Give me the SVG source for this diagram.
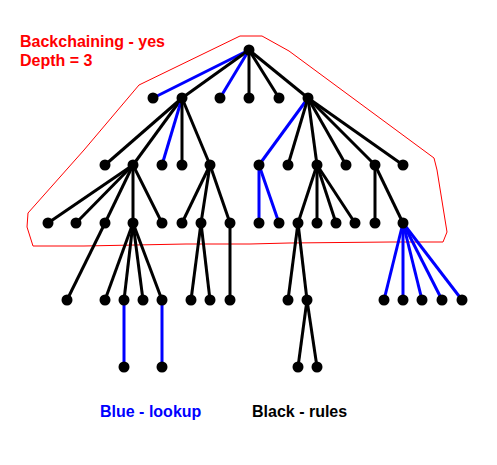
<svg xmlns="http://www.w3.org/2000/svg" width="497" height="465" viewBox="0 0 497 465">
<style>
.e{stroke:#000;stroke-width:3;fill:none}
.b{stroke:#0000ff;stroke-width:3;fill:none}
.n{fill:#000}
.t{font-family:"Liberation Sans",Arial,sans-serif;font-weight:bold;font-size:16px}
</style>
<rect width="497" height="465" fill="#fff"/>
<polyline points="28,213 84,150 139,85 240,36 262,36 289,51 434,158 437,170 447,232 443,242 391,242 289,243 250,244 186,244 84,246 33,246 27,227 28,213" fill="none" stroke="#ff0000" stroke-width="1"/>
<g id="connectors">
<line class="b" x1="249" y1="50" x2="153" y2="98"/>
<line class="e" x1="249" y1="50" x2="182" y2="98"/>
<line class="b" x1="249" y1="50" x2="220" y2="98"/>
<line class="e" x1="249" y1="50" x2="249" y2="98"/>
<line class="e" x1="249" y1="50" x2="279" y2="98"/>
<line class="e" x1="249" y1="50" x2="308" y2="98"/>
<line class="e" x1="182" y1="98" x2="105" y2="165"/>
<line class="e" x1="182" y1="98" x2="133" y2="165"/>
<line class="b" x1="182" y1="98" x2="162" y2="165"/>
<line class="e" x1="182" y1="98" x2="182" y2="165"/>
<line class="e" x1="182" y1="98" x2="210" y2="165"/>
<line class="b" x1="308" y1="98" x2="259" y2="165"/>
<line class="e" x1="308" y1="98" x2="288" y2="165"/>
<line class="e" x1="308" y1="98" x2="317" y2="165"/>
<line class="e" x1="308" y1="98" x2="346" y2="165"/>
<line class="e" x1="308" y1="98" x2="375" y2="165"/>
<line class="e" x1="308" y1="98" x2="403" y2="165"/>
<line class="e" x1="133" y1="165" x2="48" y2="223"/>
<line class="e" x1="133" y1="165" x2="76" y2="223"/>
<line class="e" x1="133" y1="165" x2="105" y2="223"/>
<line class="e" x1="133" y1="165" x2="133" y2="223"/>
<line class="e" x1="133" y1="165" x2="162" y2="223"/>
<line class="e" x1="210" y1="165" x2="182" y2="223"/>
<line class="e" x1="210" y1="165" x2="201" y2="223"/>
<line class="e" x1="210" y1="165" x2="230" y2="223"/>
<line class="b" x1="259" y1="165" x2="259" y2="223"/>
<line class="b" x1="259" y1="165" x2="279" y2="223"/>
<line class="e" x1="317" y1="165" x2="298" y2="223"/>
<line class="e" x1="317" y1="165" x2="317" y2="223"/>
<line class="e" x1="317" y1="165" x2="336" y2="223"/>
<line class="e" x1="317" y1="165" x2="355" y2="223"/>
<line class="e" x1="375" y1="165" x2="375" y2="223"/>
<line class="e" x1="375" y1="165" x2="403" y2="223"/>
<line class="e" x1="105" y1="223" x2="67" y2="300"/>
<line class="e" x1="133" y1="223" x2="105" y2="300"/>
<line class="e" x1="133" y1="223" x2="124" y2="300"/>
<line class="e" x1="133" y1="223" x2="143" y2="300"/>
<line class="e" x1="133" y1="223" x2="162" y2="300"/>
<line class="e" x1="201" y1="223" x2="191" y2="300"/>
<line class="e" x1="201" y1="223" x2="210" y2="300"/>
<line class="e" x1="230" y1="223" x2="230" y2="300"/>
<line class="e" x1="298" y1="223" x2="288" y2="300"/>
<line class="e" x1="298" y1="223" x2="307" y2="300"/>
<line class="b" x1="403" y1="223" x2="384" y2="300"/>
<line class="b" x1="403" y1="223" x2="403" y2="300"/>
<line class="b" x1="403" y1="223" x2="422" y2="300"/>
<line class="b" x1="403" y1="223" x2="442" y2="300"/>
<line class="b" x1="403" y1="223" x2="462" y2="300"/>
<line class="b" x1="124" y1="300" x2="124" y2="367"/>
<line class="b" x1="162" y1="300" x2="162" y2="367"/>
<line class="e" x1="307" y1="300" x2="298" y2="367"/>
<line class="e" x1="307" y1="300" x2="317" y2="367"/>
</g>
<g id="n0"><circle class="n" cx="249" cy="50" r="5.5"/></g>
<g id="n1"><circle class="n" cx="153" cy="98" r="5.5"/></g>
<g id="n2"><circle class="n" cx="182" cy="98" r="5.5"/></g>
<g id="n3"><circle class="n" cx="220" cy="98" r="5.5"/></g>
<g id="n4"><circle class="n" cx="249" cy="98" r="5.5"/></g>
<g id="n5"><circle class="n" cx="279" cy="98" r="5.5"/></g>
<g id="n6"><circle class="n" cx="308" cy="98" r="5.5"/></g>
<g id="n7"><circle class="n" cx="105" cy="165" r="5.5"/></g>
<g id="n8"><circle class="n" cx="133" cy="165" r="5.5"/></g>
<g id="n9"><circle class="n" cx="162" cy="165" r="5.5"/></g>
<g id="n10"><circle class="n" cx="182" cy="165" r="5.5"/></g>
<g id="n11"><circle class="n" cx="210" cy="165" r="5.5"/></g>
<g id="n12"><circle class="n" cx="259" cy="165" r="5.5"/></g>
<g id="n13"><circle class="n" cx="288" cy="165" r="5.5"/></g>
<g id="n14"><circle class="n" cx="317" cy="165" r="5.5"/></g>
<g id="n15"><circle class="n" cx="346" cy="165" r="5.5"/></g>
<g id="n16"><circle class="n" cx="375" cy="165" r="5.5"/></g>
<g id="n17"><circle class="n" cx="403" cy="165" r="5.5"/></g>
<g id="n18"><circle class="n" cx="48" cy="223" r="5.5"/></g>
<g id="n19"><circle class="n" cx="76" cy="223" r="5.5"/></g>
<g id="n20"><circle class="n" cx="105" cy="223" r="5.5"/></g>
<g id="n21"><circle class="n" cx="133" cy="223" r="5.5"/></g>
<g id="n22"><circle class="n" cx="162" cy="223" r="5.5"/></g>
<g id="n23"><circle class="n" cx="182" cy="223" r="5.5"/></g>
<g id="n24"><circle class="n" cx="201" cy="223" r="5.5"/></g>
<g id="n25"><circle class="n" cx="230" cy="223" r="5.5"/></g>
<g id="n26"><circle class="n" cx="259" cy="223" r="5.5"/></g>
<g id="n27"><circle class="n" cx="279" cy="223" r="5.5"/></g>
<g id="n28"><circle class="n" cx="298" cy="223" r="5.5"/></g>
<g id="n29"><circle class="n" cx="317" cy="223" r="5.5"/></g>
<g id="n30"><circle class="n" cx="336" cy="223" r="5.5"/></g>
<g id="n31"><circle class="n" cx="355" cy="223" r="5.5"/></g>
<g id="n32"><circle class="n" cx="375" cy="223" r="5.5"/></g>
<g id="n33"><circle class="n" cx="403" cy="223" r="5.5"/></g>
<g id="n34"><circle class="n" cx="67" cy="300" r="5.5"/></g>
<g id="n35"><circle class="n" cx="105" cy="300" r="5.5"/></g>
<g id="n36"><circle class="n" cx="124" cy="300" r="5.5"/></g>
<g id="n37"><circle class="n" cx="143" cy="300" r="5.5"/></g>
<g id="n38"><circle class="n" cx="162" cy="300" r="5.5"/></g>
<g id="n39"><circle class="n" cx="191" cy="300" r="5.5"/></g>
<g id="n40"><circle class="n" cx="210" cy="300" r="5.5"/></g>
<g id="n41"><circle class="n" cx="230" cy="300" r="5.5"/></g>
<g id="n42"><circle class="n" cx="288" cy="300" r="5.5"/></g>
<g id="n43"><circle class="n" cx="307" cy="300" r="5.5"/></g>
<g id="n44"><circle class="n" cx="384" cy="300" r="5.5"/></g>
<g id="n45"><circle class="n" cx="403" cy="300" r="5.5"/></g>
<g id="n46"><circle class="n" cx="422" cy="300" r="5.5"/></g>
<g id="n47"><circle class="n" cx="442" cy="300" r="5.5"/></g>
<g id="n48"><circle class="n" cx="462" cy="300" r="5.5"/></g>
<g id="n49"><circle class="n" cx="124" cy="367" r="5.5"/></g>
<g id="n50"><circle class="n" cx="162" cy="367" r="5.5"/></g>
<g id="n51"><circle class="n" cx="298" cy="367" r="5.5"/></g>
<g id="n52"><circle class="n" cx="317" cy="367" r="5.5"/></g>
<text class="t" x="20" y="47" fill="#ff0000">Backchaining - yes</text>
<text class="t" x="20" y="66" fill="#ff0000">Depth = 3</text>
<text class="t" x="100" y="417" fill="#0000ff">Blue - lookup</text>
<text class="t" x="252" y="417" fill="#000">Black - rules</text>
</svg>
